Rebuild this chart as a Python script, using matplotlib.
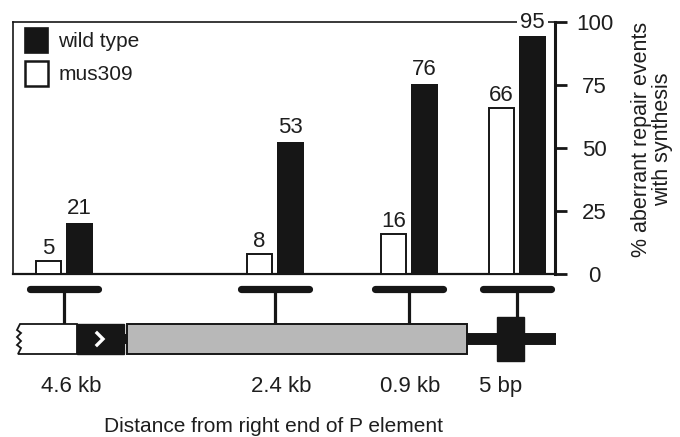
import matplotlib
matplotlib.use("Agg")
import matplotlib.pyplot as plt
from matplotlib.patches import Rectangle, Polygon, Patch

plt.rcParams['font.family'] = ['Liberation Sans', 'DejaVu Sans']

# ---------------- data ----------------
categories = ['4.6 kb', '2.4 kb', '0.9 kb', '5 bp']
group_pos = [64, 275, 409, 517]          # position along the gene (plot units)
wild_type = [21, 53, 76, 95]
mus309 = [5, 8, 16, 66]
yticks = [0, 25, 50, 75, 100]
series_names = ['wild type', 'mus309']
ylabel = '% aberrant repair events\nwith synthesis'
xlabel = 'Distance from right end of P element'

# ---------------- layout ----------------
W, H = 680, 437
fig = plt.figure(figsize=(W / 100, H / 100), dpi=100)

# overlay axes in pixel units for the gene schematic
ov = fig.add_axes([0, 0, 1, 1])
ov.set_xlim(0, W)
ov.set_ylim(H, 0)
ov.axis('off')
ov.patch.set_visible(False)

ax_l, ax_r, ax_t, ax_b = 13, 555, 22, 274
ax = fig.add_axes([ax_l / W, 1 - ax_b / H, (ax_r - ax_l) / W, (ax_b - ax_t) / H])
ax.set_xlim(ax_l, ax_r)
ax.set_ylim(0, 100)
ax.patch.set_visible(False)

FS_VAL = 16
FS_TICK = 16
FS_LEG = 15
FS_LAB = 15.5
FS_CAT = 16
FS_X = 15
BLACK = '#161616'
TXT = '#1e1e1e'
bw = 27
off = 15.5

xs_w = [g - off for g in group_pos]
xs_b = [g + off for g in group_pos]
ax.bar(xs_w, mus309, width=bw - 1.5, color='white', edgecolor=BLACK,
       linewidth=1.4, zorder=3)
ax.bar(xs_b, wild_type, width=bw, color=BLACK, edgecolor=BLACK,
       linewidth=0, zorder=3)

for x, v in zip(xs_w, mus309):
    ax.annotate(str(v), (x, v), xytext=(0, 1.5), textcoords='offset points',
                ha='center', va='bottom', fontsize=FS_VAL, color=TXT)
for x, v in zip(xs_b, wild_type):
    ax.annotate(str(v), (x, v), xytext=(0, 1.5), textcoords='offset points',
                ha='center', va='bottom', fontsize=FS_VAL, color=TXT,
                annotation_clip=False, zorder=5,
                bbox=dict(facecolor='white', edgecolor='none', pad=2.5))

# spines / ticks
for s, lw in [('left', 1.2), ('top', 1.2), ('bottom', 1.6), ('right', 2.2)]:
    ax.spines[s].set_linewidth(lw)
    ax.spines[s].set_color(BLACK)
ax.set_xticks([])
ax.yaxis.tick_right()
ax.set_yticks(yticks)
ax.tick_params(axis='y', which='both', direction='out', length=8.6, width=2.0,
               pad=20, labelsize=FS_TICK, colors=BLACK, labelcolor=TXT)
for t in ax.get_yticklabels():
    t.set_horizontalalignment('center')
ax.yaxis.set_label_position('right')
ax.set_ylabel(ylabel, fontsize=FS_LAB, color=TXT, rotation=90,
              multialignment='center', linespacing=1.0)
ax.yaxis.set_label_coords((631 - ax_l) / (ax_r - ax_l), (ax_b - 139) / (ax_b - ax_t))

leg = ax.legend(handles=[Patch(facecolor=BLACK, edgecolor=BLACK, linewidth=1.2),
                         Patch(facecolor='white', edgecolor=BLACK, linewidth=1.8)],
                labels=series_names, loc='upper left', frameon=False,
                fontsize=FS_LEG, handlelength=1.1, handleheight=1.47,
                handletextpad=0.5, labelspacing=0.38, borderaxespad=0,
                borderpad=0,
                bbox_to_anchor=(12 / (ax_r - ax_l), 1 - 6 / (ax_b - ax_t)))
for t in leg.get_texts():
    t.set_color(TXT)

# ---------------- gene schematic (overlay, pixel units) ----------------
bar_y = 289
stem_bot = 324
for g in group_pos:
    ov.plot([g - 34, g + 34], [bar_y, bar_y], color=BLACK, lw=5.2,
            solid_capstyle='round')
    ov.plot([g, g], [bar_y, stem_bot], color=BLACK, lw=2.3)

box_t, box_b = 324, 354
mid = (box_t + box_b) / 2
# white box with jagged left edge
jag = [(20, box_t), (17, 330), (21, 333), (17, 337), (21, 341), (17, 345),
       (21, 348), (18, box_b), (77, box_b), (77, box_t)]
ov.add_patch(Polygon(jag, closed=True, facecolor='white', edgecolor=BLACK,
                     linewidth=1.3, zorder=2))
# black box with chevron
ov.add_patch(Rectangle((77, box_t), 47, box_b - box_t, facecolor=BLACK,
                       edgecolor=BLACK, linewidth=1.0, zorder=3))
ov.plot([97, 103, 97], [mid - 6, mid, mid + 6], color='white', lw=2.4,
        solid_joinstyle='miter', zorder=4)
ov.add_patch(Rectangle((123, mid - 5), 5, 10, facecolor=BLACK, edgecolor='none', zorder=3))
# gray box
ov.add_patch(Rectangle((127, box_t), 340, box_b - box_t, facecolor='#b8b8b8',
                       edgecolor=BLACK, linewidth=1.4, zorder=3))
# right-hand thick line and block
ov.plot([467, 556], [mid, mid], color=BLACK, lw=8.6, solid_capstyle='butt', zorder=2)
ov.add_patch(Rectangle((497, 317), 27, 44, facecolor=BLACK, edgecolor=BLACK,
                       linewidth=1.0, zorder=3))

label_x = [71, 281, 410, 501]
for x, c in zip(label_x, categories):
    ov.text(x, 392, c, ha='center', va='baseline', fontsize=FS_CAT, color=TXT)
ov.text(274, 432, xlabel, ha='center', va='baseline', fontsize=FS_X, color=TXT)

fig.savefig('out.png', dpi=100)
